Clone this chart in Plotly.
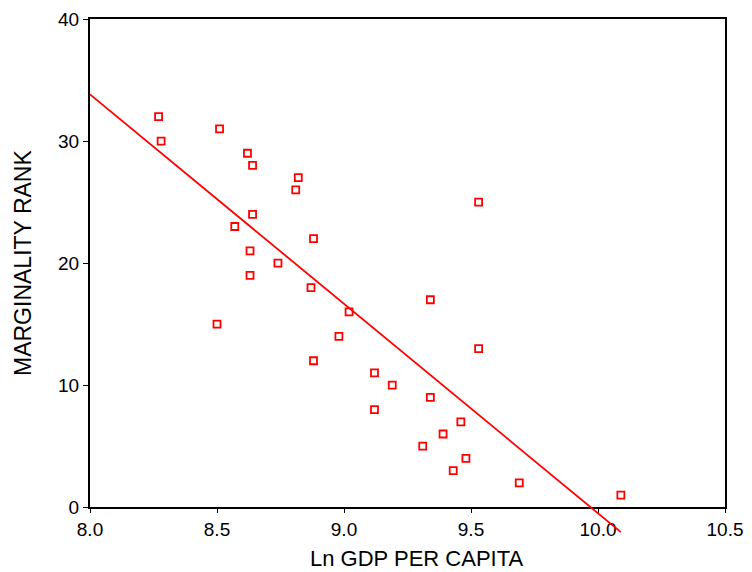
import numpy as np
import plotly.graph_objects as go

# Data
ln_gdp = [8.27, 8.28, 8.51, 8.62, 8.64, 8.82, 8.81, 9.53, 8.64, 8.57, 8.88,
          8.63, 8.74, 8.63, 8.87, 9.34, 9.02, 8.50, 8.98, 9.53, 8.88, 9.12,
          9.19, 9.34, 9.12, 9.46, 9.39, 9.31, 9.48, 9.43, 9.69, 10.09]
rank = [32, 30, 31, 29, 28, 27, 26, 25, 24, 23, 22,
        21, 20, 19, 18, 17, 16, 15, 14, 13, 12, 11,
        10, 9, 8, 7, 6, 5, 4, 3, 2, 1]

x_ticks = [8.0, 8.5, 9.0, 9.5, 10.0, 10.5]
y_ticks = [0, 10, 20, 30, 40]

# OLS fit line
slope, intercept = np.polyfit(ln_gdp, rank, 1)
fit_x = np.array([8.0, max(ln_gdp)])
fit_y = intercept + slope * fit_x

# page has an 8px body margin, so the figure is drawn at (8, 8)
W, H = 744, 564
m_l, m_r, m_t, m_b = 82, 26.5, 10.5, 22
plot_h = H - m_t - m_b
plot_w = W - m_l - m_r
axis_bottom_px = 499.2
d0 = (H - m_b - axis_bottom_px) / plot_h
y_lo, y_hi = 0, 40
y2_lo = y_lo - d0 / (1 - d0) * (y_hi - y_lo)

font = "Liberation Sans, Arial, sans-serif"

fig = go.Figure()
fig.add_trace(go.Scatter(
    x=fit_x, y=fit_y, mode="lines",
    line=dict(color="#ff0000", width=1.8),
    xaxis="x", yaxis="y2", showlegend=False, hoverinfo="skip"))
fig.add_trace(go.Scatter(
    x=ln_gdp, y=rank, mode="markers",
    marker=dict(symbol="square-open", size=7, color="#ff0000",
                line=dict(width=1.8, color="#ff0000")),
    xaxis="x", yaxis="y", showlegend=False, hoverinfo="x+y"))

fig.add_annotation(
    text="Ln GDP PER CAPITA", xref="paper", yref="paper",
    x=(417 - 8 - m_l) / plot_w, y=-(551 - (H - m_b)) / plot_h,
    xanchor="center", yanchor="middle", showarrow=False,
    font=dict(size=22, family=font, color="black"))

fig.update_layout(
    width=W, height=H,
    margin=dict(l=m_l, r=m_r, t=m_t, b=m_b, pad=0, autoexpand=False),
    paper_bgcolor="white", plot_bgcolor="rgba(0,0,0,0)",
    font=dict(family=font, color="black", size=19),
    xaxis=dict(range=[8.0, 10.5], tickvals=x_ticks,
               ticktext=[f"{v:.1f}" for v in x_ticks],
               showgrid=False, zeroline=False, automargin=False,
               ticklabeloverflow="allow",
               showline=True, linecolor="black", linewidth=2, mirror=True,
               ticks="outside", ticklen=4, tickwidth=1, tickcolor="black",
               anchor="y"),
    yaxis=dict(range=[y_lo, y_hi], tickvals=y_ticks, domain=[d0, 1],
               showgrid=False, zeroline=False, automargin=False,
               ticklabeloverflow="allow",
               showline=True, linecolor="black", linewidth=2, mirror=True,
               ticks="outside", ticklen=5, tickwidth=1, tickcolor="black",
               anchor="x",
               title=dict(text="MARGINALITY RANK", font=dict(size=23), standoff=20)),
    yaxis2=dict(range=[y2_lo, y_hi], domain=[0, 1], visible=False,
                anchor="x", showgrid=False, zeroline=False),
)

fig.write_html("out.html")
